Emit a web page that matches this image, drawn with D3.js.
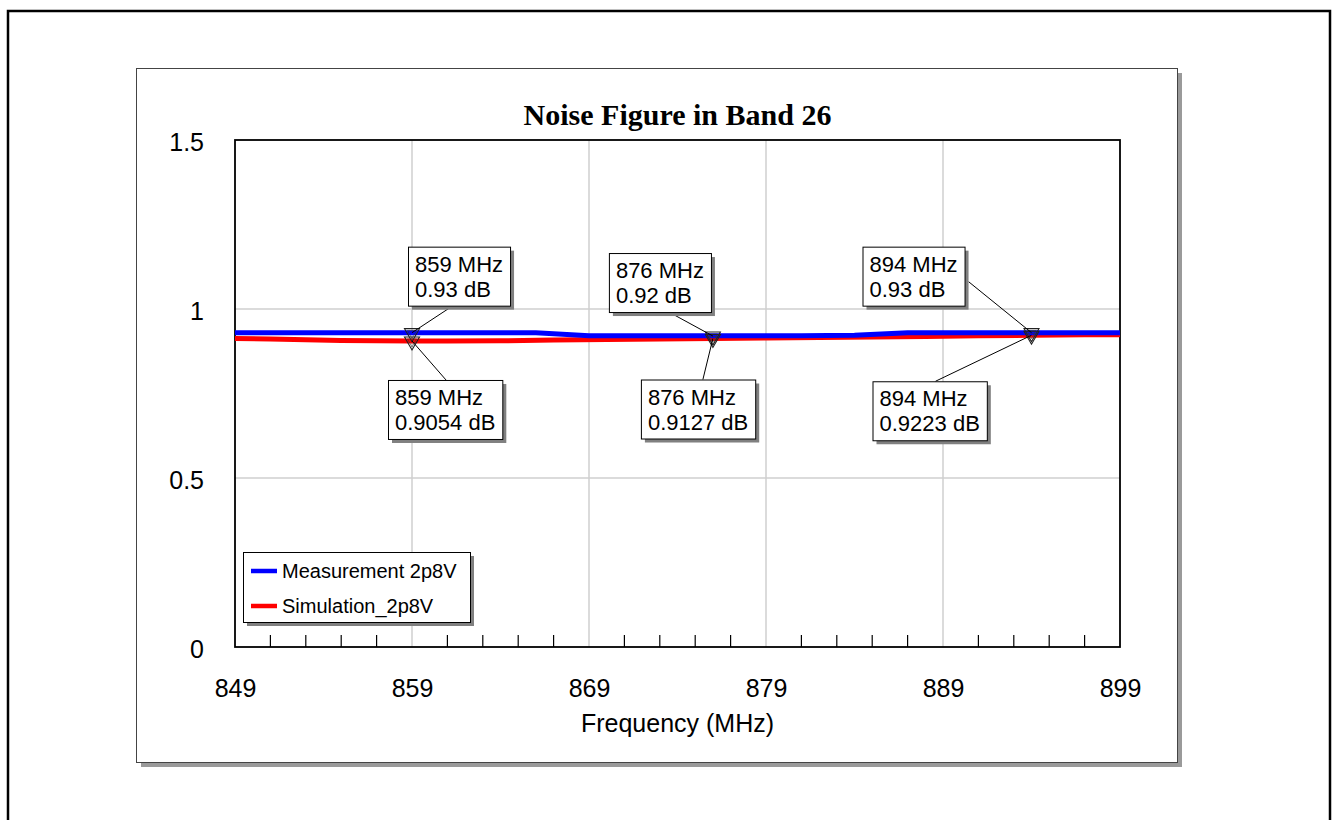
<!DOCTYPE html>
<html>
<head>
<meta charset="utf-8">
<script src="https://cdn.jsdelivr.net/npm/d3@7"></script>
<style>
  html, body { margin: 0; padding: 0; background: #fff; }
  svg { display: block; }
</style>
</head>
<body>
<svg id="chart" width="1334" height="820"></svg>
<script>
// ---------------- data ----------------
const title = "Noise Figure in Band 26";
const xTitle = "Frequency (MHz)";
const xTickValues = [849, 859, 869, 879, 889, 899];
const yTickValues = [0, 0.5, 1, 1.5];
const yTickLabels = ["0", "0.5", "1", "1.5"];
const xMinorTicks = [851, 853, 855, 857, 861, 863, 865, 867, 871, 873, 875, 877, 881, 883, 885, 887, 891, 893, 895, 897];

const measFreq = [849, 853, 857, 861, 865, 866, 869, 873, 877, 881, 884, 887, 891, 895, 899];
const measVal  = [0.93, 0.93, 0.93, 0.93, 0.93, 0.93, 0.921, 0.921, 0.921, 0.921, 0.922, 0.93, 0.93, 0.93, 0.93];

const simFreq = [849, 851, 853, 855, 857, 859, 861, 864, 867, 870, 873, 876, 879, 882, 885, 888, 891, 894, 897, 899];
const simVal  = [0.913, 0.911, 0.909, 0.907, 0.906, 0.9054, 0.905, 0.906, 0.908, 0.9095, 0.911, 0.9127, 0.914, 0.9155, 0.917, 0.919, 0.9205, 0.9223, 0.9235, 0.924];

const seriesNames = ["Measurement 2p8V", "Simulation_2p8V"];
const seriesColors = ["#0000ff", "#ff0000"];

const markerFreq = [859, 876, 894];
const measMarkerVal = [0.93, 0.92, 0.93];
const simMarkerVal = [0.9054, 0.9127, 0.9223];
const measMarkerText = ["0.93 dB", "0.92 dB", "0.93 dB"];
const simMarkerText = ["0.9054 dB", "0.9127 dB", "0.9223 dB"];

// ---------------- layout ----------------
const svg = d3.select("#chart");
const plot = {left: 235, right: 1120, top: 140, bottom: 647};

const x = d3.scaleLinear().domain([849, 899]).range([plot.left, plot.right]);
const y = d3.scaleLinear().domain([0, 1.5]).range([plot.bottom, plot.top]);

// outer border
svg.append("rect").attr("x", 8).attr("y", 11).attr("width", 1322).attr("height", 830)
  .attr("fill", "none").attr("stroke", "#000").attr("stroke-width", 2.5);

// inner panel with shadow
svg.append("rect").attr("x", 141).attr("y", 73).attr("width", 1041).attr("height", 694).attr("fill", "#9a9a9a");
svg.append("rect").attr("x", 136.5).attr("y", 68.5).attr("width", 1041).attr("height", 694)
  .attr("fill", "#fff").attr("stroke", "#444").attr("stroke-width", 1);

// title
svg.append("text").attr("x", (plot.left + plot.right) / 2).attr("y", 125)
  .attr("text-anchor", "middle").attr("font-family", "'Liberation Serif', 'Times New Roman', serif")
  .attr("font-weight", "bold").attr("font-size", 30).attr("fill", "#000").text(title);

// gridlines
const grid = svg.append("g");
grid.selectAll("line.gx").data(xTickValues.slice(1, -1)).enter().append("line")
  .attr("x1", d => x(d)).attr("x2", d => x(d)).attr("y1", plot.top).attr("y2", plot.bottom)
  .attr("stroke", "#cfcfcf").attr("stroke-width", 1.5);
grid.selectAll("line.gy").data(yTickValues.slice(1, -1)).enter().append("line")
  .attr("x1", plot.left).attr("x2", plot.right).attr("y1", d => y(d)).attr("y2", d => y(d))
  .attr("stroke", "#cfcfcf").attr("stroke-width", 1.5);

// minor ticks (inward from bottom)
svg.append("g").selectAll("line").data(xMinorTicks).enter().append("line")
  .attr("x1", d => x(d)).attr("x2", d => x(d)).attr("y1", plot.bottom).attr("y2", plot.bottom - 12)
  .attr("stroke", "#000").attr("stroke-width", 1.2);

// plot frame
svg.append("rect").attr("x", plot.left).attr("y", plot.top)
  .attr("width", plot.right - plot.left).attr("height", plot.bottom - plot.top)
  .attr("fill", "none").attr("stroke", "#000").attr("stroke-width", 1.8);

// axes labels via d3 axes
const font = "'Liberation Sans', Arial, Helvetica, sans-serif";
const xAxis = d3.axisBottom(x).tickValues(xTickValues).tickFormat(d3.format("d")).tickSize(0).tickPadding(0);
const gx = svg.append("g").attr("transform", `translate(0, ${plot.bottom})`).call(xAxis);
gx.select(".domain").remove();
gx.selectAll("text").attr("font-family", font).attr("font-size", 25).attr("fill", "#000")
  .attr("dy", null).attr("y", 50);

const yAxis = d3.axisLeft(y).tickValues(yTickValues).tickFormat((d, i) => yTickLabels[i]).tickSize(0).tickPadding(0);
const gy = svg.append("g").attr("transform", `translate(${plot.left - 31}, 0)`).call(yAxis);
gy.select(".domain").remove();
gy.selectAll("text").attr("font-family", font).attr("font-size", 25).attr("fill", "#000")
  .attr("dy", "0.42em").attr("x", 0);

// x title
svg.append("text").attr("x", (plot.left + plot.right) / 2).attr("y", 732)
  .attr("text-anchor", "middle").attr("font-family", font).attr("font-size", 25).attr("fill", "#000").text(xTitle);

// lines
const line = d3.line().x(d => x(d[0])).y(d => y(d[1]));
const simData = simFreq.map((f, i) => [f, simVal[i]]);
const measData = measFreq.map((f, i) => [f, measVal[i]]);
svg.append("path").datum(simData).attr("d", line).attr("fill", "none")
  .attr("stroke", seriesColors[1]).attr("stroke-width", 5);
svg.append("path").datum(measData).attr("d", line).attr("fill", "none")
  .attr("stroke", seriesColors[0]).attr("stroke-width", 5);

// markers
function tri(cx, cy, hw, top, bot) {
  return `M${cx - hw},${cy - top} L${cx + hw},${cy - top} L${cx},${cy + bot} Z`;
}
const markers = svg.append("g");
function drawMarker(f, v) {
  const cx = x(f), cy = y(v);
  markers.append("path").attr("d", tri(cx, cy, 7.5, 4, 9)).attr("fill", "none").attr("stroke", "#222").attr("stroke-width", 1.1);
  markers.append("path").attr("d", tri(cx, cy + 0.5, 4.5, 2.5, 5.5)).attr("fill", "none").attr("stroke", "#333").attr("stroke-width", 0.6);
}

// annotation boxes: offsets of box (top-left) relative to marker point, and leader anchor side
const annoLayout = [
  {dx: -4,   dy: -86, anchor: "bottom", ax: 45},
  {dx: -24,  dy: 39,  anchor: "top",    ax: 58},
  {dx: -104, dy: -83, anchor: "bottom", ax: 60},
  {dx: -72,  dy: 41,  anchor: "top",    ax: 62},
  {dx: -169, dy: -86, anchor: "right",  ax: 35},
  {dx: -159, dy: 46,  anchor: "top",    ax: 63}
];

const annos = [];
markerFreq.forEach((f, i) => {
  annos.push({f, v: measMarkerVal[i], t1: f + " MHz", t2: measMarkerText[i]});
  annos.push({f, v: simMarkerVal[i], t1: f + " MHz", t2: simMarkerText[i]});
});

const leaders = svg.append("g");
const boxes = svg.append("g");
annos.forEach((a, i) => {
  const L = annoLayout[i];
  const cx = x(a.f), cy = y(a.v);
  const bx = cx + L.dx, by = cy + L.dy;
  const g = boxes.append("g");
  const sh = g.append("rect");
  const bg = g.append("rect");
  const t1 = g.append("text").attr("x", bx + 7).attr("y", by + 25).attr("font-family", font).attr("font-size", 22).text(a.t1);
  const t2 = g.append("text").attr("x", bx + 7).attr("y", by + 50).attr("font-family", font).attr("font-size", 22).text(a.t2);
  const w = Math.max(t1.node().getComputedTextLength(), t2.node().getComputedTextLength()) + 14;
  const h = 59;
  sh.attr("x", bx + 4).attr("y", by + 4).attr("width", w).attr("height", h).attr("fill", "#808080");
  bg.attr("x", bx + 0.5).attr("y", by + 0.5).attr("width", w).attr("height", h).attr("fill", "#fff").attr("stroke", "#000").attr("stroke-width", 1);
  let lx, ly;
  if (L.anchor === "bottom") { lx = bx + L.ax; ly = by + h; }
  else if (L.anchor === "top") { lx = bx + L.ax; ly = by; }
  else { lx = bx + w + 4; ly = by + L.ax; }
  leaders.append("line").attr("x1", lx).attr("y1", ly).attr("x2", cx).attr("y2", cy)
    .attr("stroke", "#000").attr("stroke-width", 1);
  drawMarker(a.f, a.v);
});

// legend
const lg = svg.append("g");
lg.append("rect").attr("x", 247).attr("y", 556).attr("width", 227).attr("height", 70).attr("fill", "#808080");
lg.append("rect").attr("x", 243.5).attr("y", 552.5).attr("width", 227).attr("height", 70)
  .attr("fill", "#fff").attr("stroke", "#000").attr("stroke-width", 1);
seriesNames.forEach((n, i) => {
  const yy = 571 + i * 35;
  lg.append("line").attr("x1", 251).attr("x2", 277).attr("y1", yy).attr("y2", yy)
    .attr("stroke", seriesColors[i]).attr("stroke-width", 4.5);
  lg.append("text").attr("x", 282).attr("y", yy + 7).attr("font-family", font).attr("font-size", 20)
    .attr("fill", "#000").text(n);
});
</script>
</body>
</html>
